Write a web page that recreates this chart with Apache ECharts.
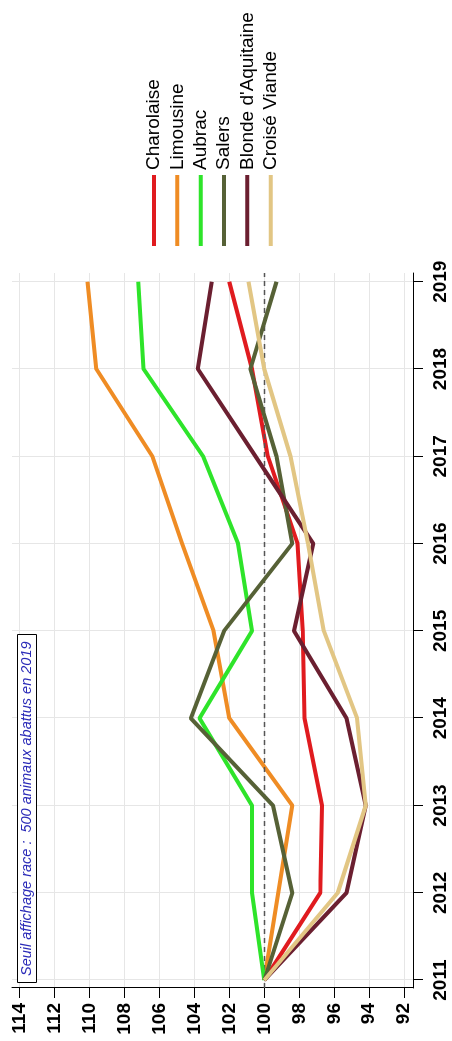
<!DOCTYPE html>
<html><head><meta charset="utf-8">
<script src="https://cdn.jsdelivr.net/npm/echarts@6/dist/echarts.min.js"></script>
<style>
html,body{margin:0;padding:0;background:#fff;overflow:hidden;width:452px;height:1041px;}
#chart{position:absolute;left:0;top:0;width:1041px;height:452px;transform-origin:0 0;transform:translate(0,1041px) rotate(-90deg);}
</style></head><body><div id="chart"></div>
<script>
// ---- data ----
const years = [2011, 2012, 2013, 2014, 2015, 2016, 2017, 2018, 2019];
const yearTicks = [2011, 2012, 2013, 2014, 2015, 2016, 2017, 2018, 2019];
const valueTicks = [92, 94, 96, 98, 100, 102, 104, 106, 108, 110, 112, 114];
const seriesNames = ['Charolaise', 'Limousine', 'Aubrac', 'Salers', "Blonde d'Aquitaine", 'Croisé Viande'];
const charolaise = [100, 96.8, 96.7, 97.7, 97.8, 98.1, 99.8, 100.7, 102.0];
const limousine  = [100, 99.2, 98.4, 102.0, 102.9, 104.7, 106.4, 109.6, 110.1];
const aubrac     = [100, 100.7, 100.7, 103.7, 100.7, 101.5, 103.5, 106.9, 107.2];
const salers     = [100, 98.4, 99.5, 104.2, 102.3, 98.4, 99.3, 100.8, 99.3];
const blonde     = [100, 95.3, 94.2, 95.3, 98.3, 97.2, 100.5, 103.8, 103.0];
const croise     = [100, 95.8, 94.2, 94.7, 96.6, 97.5, 98.5, 100.0, 100.9];
const referenceValue = 100;
const note = 'Seuil affichage race :  500 animaux abattus en 2019';

// ---- styles ----
const colors = ['#e01b1f', '#ef8c24', '#2ee42a', '#566136', '#6b1f30', '#e2c684'];
const FONT = '"Liberation Sans", Arial, sans-serif';

const valueSets = [charolaise, limousine, aubrac, salers, blonde, croise];
const series = valueSets.map((vals, k) => {
  const s = {
    name: seriesNames[k],
    type: 'line',
    data: years.map((y, i) => [y, vals[i]]),
    showSymbol: false,
    symbol: 'none',
    lineStyle: { width: 4, color: colors[k] },
    itemStyle: { color: colors[k] },
    z: 3 + k
  };
  if (k === 0) {
    s.markLine = {
      silent: true,
      symbol: 'none',
      label: { show: false },
      lineStyle: { type: [5, 4], color: '#555', width: 1.3 },
      data: [{ yAxis: referenceValue }]
    };
  }
  return s;
});

const chart = echarts.init(document.getElementById('chart'), null, { renderer: 'canvas' });
chart.setOption({
  animation: false,
  backgroundColor: '#fff',
  title: {
    text: note,
    left: 58, top: 17,
    padding: [2, 7],
    borderColor: '#000', borderWidth: 1,
    backgroundColor: '#fff',
    textStyle: { color: '#2b2bb8', fontStyle: 'italic', fontWeight: 'normal', fontSize: 14.5, lineHeight: 16, fontFamily: FONT }
  },
  legend: {
    orient: 'vertical',
    left: 795, top: 144,
    padding: 0,
    itemWidth: 71, itemHeight: 4, itemGap: 3.33,
    icon: 'rect',
    data: seriesNames,
    textStyle: { fontSize: 19, lineHeight: 20, color: '#000', fontFamily: FONT }
  },
  grid: { left: 53, right: 273, top: 12, bottom: 39, containLabel: false },
  xAxis: {
    type: 'value',
    min: 2010.91, max: 2019.1,
    axisLine: { show: true, lineStyle: { color: '#000', width: 1 } },
    axisTick: { show: true, length: 10, customValues: yearTicks, lineStyle: { color: '#000' } },
    axisLabel: { customValues: yearTicks, margin: 18, fontSize: 19, fontWeight: 'bold', color: '#000', fontFamily: FONT, formatter: v => String(v) },
    splitLine: { show: true, lineStyle: { color: '#e6e6e6', width: 1 } }
  },
  yAxis: {
    type: 'value',
    min: 91.5, max: 114.42,
    axisLine: { show: true, lineStyle: { color: '#000', width: 1 } },
    axisTick: { show: true, length: 10, customValues: valueTicks, lineStyle: { color: '#000' } },
    axisLabel: { customValues: valueTicks, margin: 15, fontSize: 19, fontWeight: 'bold', color: '#000', fontFamily: FONT },
    splitLine: { show: true, lineStyle: { color: '#e6e6e6', width: 1 } }
  },
  series: series
});
</script>
</body></html>
